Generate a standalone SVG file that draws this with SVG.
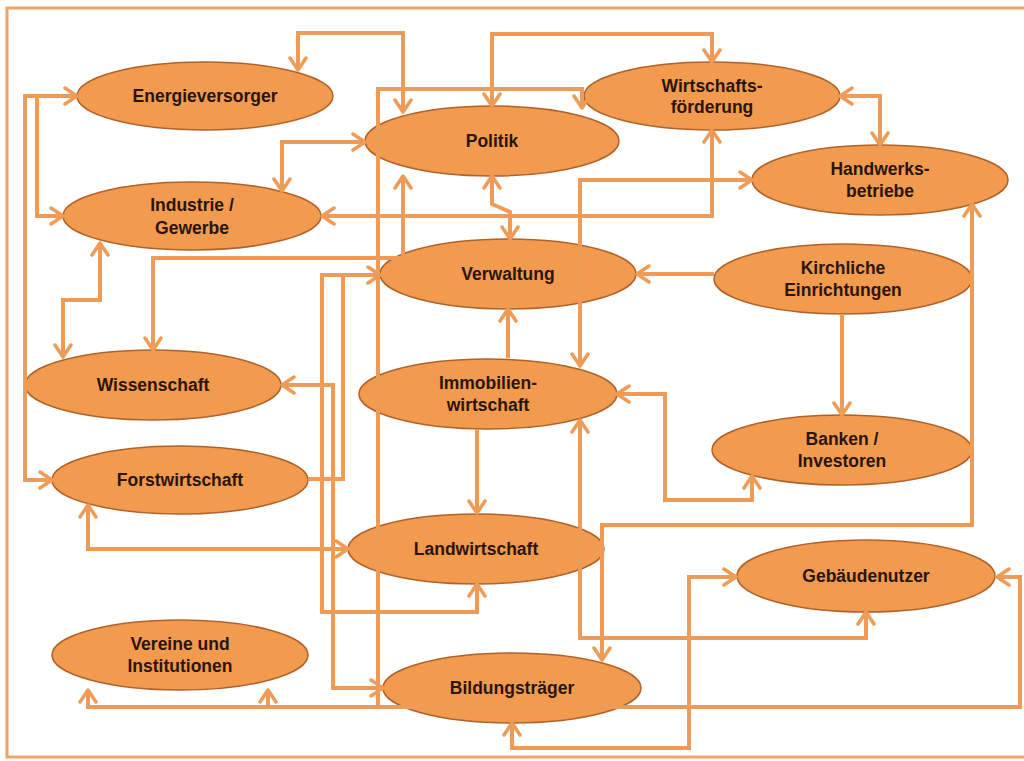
<svg xmlns="http://www.w3.org/2000/svg" width="1024" height="761" viewBox="0 0 1024 761">
<defs>
<marker id="ah" markerUnits="userSpaceOnUse" viewBox="0 0 16 20" markerWidth="16" markerHeight="20" refX="14" refY="10" orient="auto-start-reverse">
<path d="M2,2 L14,10 L2,18" fill="none" stroke="#EE9B57" stroke-width="3.5" stroke-linecap="round" stroke-linejoin="round"/>
</marker>
<style>
.n ellipse{fill:#F29A4E;stroke:#B0622A;stroke-width:1.5}
.n text{font-family:"Liberation Sans",Arial,sans-serif;font-weight:bold;font-size:17.5px;fill:#2A1508;text-anchor:middle;dominant-baseline:central}
.c path{fill:none;stroke:#EE9B57;stroke-width:4;stroke-linejoin:miter}
.b{marker-start:url(#ah);marker-end:url(#ah)}
.e{marker-end:url(#ah)}
.s{marker-start:url(#ah)}
</style>
</defs>
<rect width="1024" height="761" fill="#FFFFFF"/>
<path d="M1030,8 H7 V757 H1030" fill="none" stroke="#F0A468" stroke-width="3"/>
<g id="nodes">
<g id="energieversorger" class="n"><ellipse cx="205" cy="96" rx="128" ry="34"/><text x="205" y="96">Energieversorger</text></g>
<g id="industrie" class="n"><ellipse cx="192" cy="216" rx="129" ry="34"/><text x="192" y="205">Industrie /</text><text x="192" y="228">Gewerbe</text></g>
<g id="politik" class="n"><ellipse cx="492" cy="141" rx="127" ry="35"/><text x="492" y="141">Politik</text></g>
<g id="wirtschaftsfoerderung" class="n"><ellipse cx="712" cy="96" rx="128" ry="34"/><text x="712" y="86">Wirtschafts-</text><text x="712" y="107">förderung</text></g>
<g id="handwerksbetriebe" class="n"><ellipse cx="880" cy="180" rx="128" ry="35"/><text x="880" y="169">Handwerks-</text><text x="880" y="191">betriebe</text></g>
<g id="verwaltung" class="n"><ellipse cx="508" cy="274" rx="128" ry="35"/><text x="508" y="274">Verwaltung</text></g>
<g id="kirchliche" class="n"><ellipse cx="843" cy="279" rx="129" ry="35"/><text x="843" y="268">Kirchliche</text><text x="843" y="290">Einrichtungen</text></g>
<g id="wissenschaft" class="n"><ellipse cx="153" cy="385" rx="128" ry="35"/><text x="153" y="385">Wissenschaft</text></g>
<g id="immobilien" class="n"><ellipse cx="488" cy="394" rx="129" ry="35"/><text x="488" y="383">Immobilien-</text><text x="488" y="405">wirtschaft</text></g>
<g id="banken" class="n"><ellipse cx="842" cy="450" rx="130" ry="35"/><text x="842" y="439">Banken /</text><text x="842" y="461">Investoren</text></g>
<g id="forstwirtschaft" class="n"><ellipse cx="180" cy="480" rx="128" ry="34"/><text x="180" y="480">Forstwirtschaft</text></g>
<g id="landwirtschaft" class="n"><ellipse cx="476" cy="549" rx="128" ry="35"/><text x="476" y="549">Landwirtschaft</text></g>
<g id="gebaeudenutzer" class="n"><ellipse cx="866" cy="576" rx="129" ry="36"/><text x="866" y="576">Gebäudenutzer</text></g>
<g id="vereine" class="n"><ellipse cx="180" cy="655" rx="128" ry="35"/><text x="180" y="644">Vereine und</text><text x="180" y="666">Institutionen</text></g>
<g id="bildungstraeger" class="n"><ellipse cx="512" cy="688" rx="129" ry="35"/><text x="512" y="688">Bildungsträger</text></g>
</g>
<g id="connectors" class="c">
<path class="b" d="M298,70 V33 H403 V112"/>
<path class="b" d="M492,106 V34 H712 V62"/>
<path class="s" d="M582,108 V89 H378 V707"/>
<path class="b" d="M88,690 V707 H1020 V577 H997"/>
<path class="s" d="M268,690 V707"/>
<path class="b" d="M282,191 V142 H365"/>
<path class="b" d="M77,96 H25 V480 H52"/>
<path class="e" d="M37,96 V216 H63"/>
<path class="b" d="M322,216 H712 V130"/>
<path class="b" d="M492,176 V204 L510,212 V239"/>
<path class="b" d="M153,350 V258 H403 V176"/>
<path class="b" d="M100,243 V300 H63 V357"/>
<path class="b" d="M380,275 H322 V612 H477 V584"/>
<path d="M308,479 H343 V275"/>
<path class="b" d="M282,385 H333 V688 H383"/>
<path class="b" d="M88,505 V549 H348"/>
<path class="e" d="M477,429 V513"/>
<path class="e" d="M508,358 V309"/>
<path class="e" d="M714,274 H637"/>
<path class="e" d="M842,314 V415"/>
<path class="b" d="M580,366 V180 H752"/>
<path class="b" d="M840,96 H880 V145"/>
<path class="b" d="M972,204 V525 H602 V660"/>
<path class="b" d="M617,394 H665 V500 H752 V476"/>
<path class="b" d="M580,420 V638 H866 V612"/>
<path class="b" d="M512,723 V748 H689 V577 H736"/>
</g>
</svg>
